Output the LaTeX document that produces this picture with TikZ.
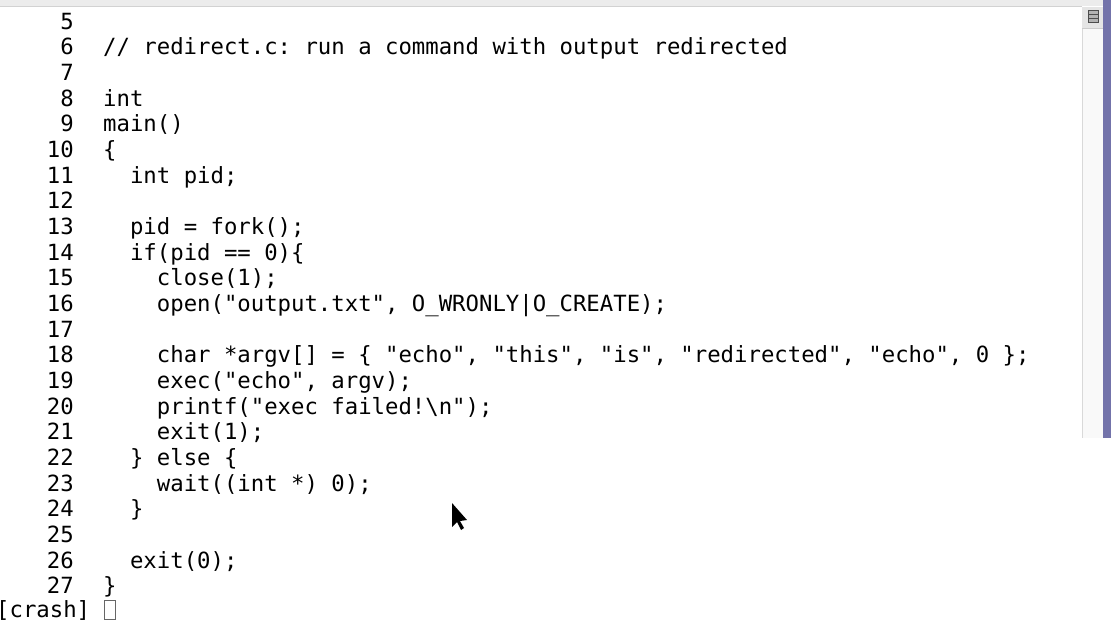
\documentclass[tikz,border=0pt]{standalone}
\usepackage{fontspec}
\setmonofont{DejaVu Sans Mono}
\begin{document}
\begin{tikzpicture}[x=1pt,y=-1pt,
  code/.style={anchor=base west,inner sep=0pt,font=\fontsize{22.3}{24}\ttfamily},
  num/.style={anchor=base east,inner sep=0pt,font=\fontsize{22.3}{24}\ttfamily}]
\useasboundingbox (0,0) rectangle (1111,619);
\fill[white] (0,0) rectangle (1111,619);
\fill[gray!15] (0,0) rectangle (1111,6);
\draw[gray!35] (0,6.5) -- (1082,6.5);
\fill[gray!5] (1082,7) rectangle (1103,438);
\draw[gray!30] (1082,7) -- (1082,438);
\fill[gray!20] (1082,7) rectangle (1103,28);
\draw[gray!40] (1082,28) -- (1103,28);
\node[draw=black!70,fill=gray!60,minimum width=10pt,minimum height=12pt,inner sep=0pt] (icon) at (1093,16) {};
\draw[black!70] (1088,14) -- (1098,14) (1088,18) -- (1098,18);
\fill[blue!30!gray!90!black!80] (1103,0) rectangle (1111,438);
\fill[white] (1100,438) rectangle (1111,619);
\foreach \n/\t in {
5/{},6/{// redirect.c: run a command with output redirected},7/{},
8/{int},9/{main()},10/{\{},11/{\ \ int pid;},12/{},
13/{\ \ pid = fork();},14/{\ \ if(pid == 0)\{},15/{\ \ \ \ close(1);},
16/{\ \ \ \ open("output.txt", O\_WRONLY|O\_CREATE);},17/{},
18/{\ \ \ \ char *argv[] = \{ "echo", "this", "is", "redirected", "echo", 0 \};},
19/{\ \ \ \ exec("echo", argv);},20/{\ \ \ \ printf("exec failed!\textbackslash n");},
21/{\ \ \ \ exit(1);},22/{\ \ \} else \{},23/{\ \ \ \ wait((int *) 0);},
24/{\ \ \}},25/{},26/{\ \ exit(0);},27/{\}}}{
  \node[num] (n\n) at (74,{29+(\n-5)*25.68}) {\n};
  \node[code] (c\n) at (103,{29+(\n-5)*25.68}) {\t};
}
\node[code] (prompt) at (-4,617) {[crash]};
\node[draw=black!60,minimum width=11pt,minimum height=19pt,inner sep=0pt,anchor=north west] (cur) at (104,600) {};
\fill[black] (452,503) -- (452,527) -- (457,522) -- (461,530) -- (464,528) -- (460,521) -- (467,520) -- cycle;
\end{tikzpicture}
\end{document}
